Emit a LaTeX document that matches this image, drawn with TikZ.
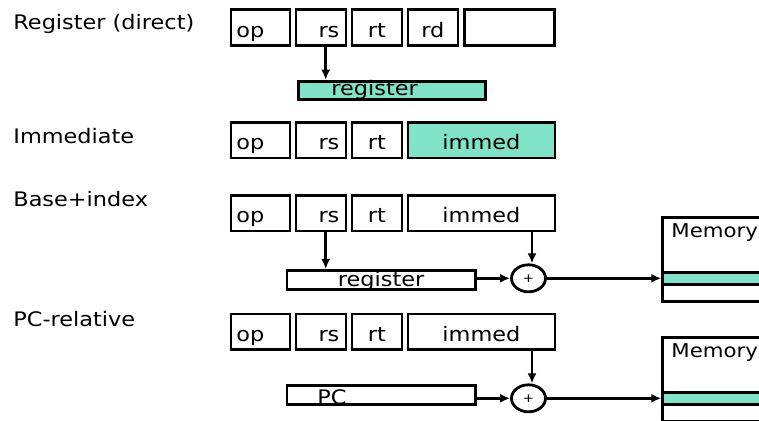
\documentclass[tikz,border=0pt]{standalone}
\usepackage{fontspec}
\setmainfont{DejaVu Sans}[FakeStretch=1.12]
\usetikzlibrary{shapes.geometric, arrows.meta, calc}
\definecolor{regfill}{RGB}{128,226,198}

\begin{document}
\begin{tikzpicture}[x=1pt, y=-1pt, line width=2.8pt,
    font=\fontsize{20}{24}\selectfont,
    modename/.style={anchor=base west, inner sep=0pt},
    fld/.style={draw, anchor=north west, minimum height=35.5pt, inner ysep=0pt, text height=27.5pt, text depth=8pt},
    opbox/.style={fld, minimum width=59pt, text width=48pt, inner xsep=5.5pt, align=left},
    rsbox/.style={fld, minimum width=50pt, text width=37pt, inner xsep=6.5pt, align=right},
    rtbox/.style={fld, minimum width=50pt, text width=50pt, inner xsep=0pt, align=center},
    immbox/.style={fld, minimum width=147pt, text width=147pt, inner xsep=0pt, align=center},
    regbox/.style={draw, anchor=north west, text width=188.5pt, inner sep=0pt},
    plus/.style={draw, ellipse, minimum width=34pt, minimum height=27pt, inner sep=0pt, font=\fontsize{12}{14}\selectfont},
    mem/.style={draw, anchor=north west, minimum width=130pt, minimum height=84pt, inner sep=0pt},
    band/.style={draw, fill=regfill, anchor=north west, minimum width=130pt, minimum height=12pt, inner sep=0pt},
    arr/.style={-{Latex[length=10pt,width=9pt]}}]
  \clip (0,0) rectangle (759,420);

  % addressing modes
  \node[modename] (mode1) at (12,30) {Register (direct)};
  \node[modename] (mode2) at (12,143) {Immediate};
  \node[modename] (mode3) at (12,206) {Base+index};
  \node[modename] (mode4) at (12,326) {PC-relative};

  % instruction fields
  \foreach \r/\y in {1/8.5, 2/121, 3/194, 4/312.5} {
    \node[opbox] (op\r) at (229.5,\y) {op};
    \node[rsbox] (rs\r) at (294.5,\y) {rs};
    \node[rtbox] (rt\r) at (350.5,\y) {rt};
  }
  \node[rtbox] (rd1) at (406.5,8.5) {rd};
  \node[fld, minimum width=90pt] (fn1) at (463,8.5) {};
  \node[immbox, fill=regfill] (imm2) at (406.5,121) {immed};
  \node[immbox] (imm3) at (406.5,194) {immed};
  \node[immbox] (imm4) at (406.5,312.5) {immed};

  % registers
  \node[regbox, fill=regfill, text width=187pt, align=left, text height=14.3pt, text depth=4pt] (reg1) at (297.3,79.7) {\hspace*{32.7pt}register};
  \node[regbox, align=center, text height=16pt, text depth=3pt] (reg3) at (285.5,269) {register};
  \node[regbox, align=left, text height=19.3pt, text depth=0pt] (pc4) at (285.5,384) {\hspace*{30.5pt}PC};

  % adders
  \node[plus] (plus1) at (528.5,278.3) {+};
  \node[plus] (plus2) at (528.5,398.3) {+};

  % memories
  \node[mem] (mem1) at (661.3,215.7) {};
  \node[band] (band1) at ($(mem1.north west)+(0,55.6)$) {};
  \node[modename, font=\fontsize{19}{22}\selectfont] (memlbl1) at ($(mem1.north west)+(8.7,21.3)$) {Memory};
  \node[mem] (mem2) at (661.3,335.7) {};
  \node[band] (band2) at ($(mem2.north west)+(0,55.6)$) {};
  \node[modename, font=\fontsize{19}{22}\selectfont] (memlbl2) at ($(mem2.north west)+(8.7,21.3)$) {Memory};

  % connectors
  \coordinate (src1) at ([xshift=4.8pt]rs1.south);
  \coordinate (src3) at ([xshift=4.8pt]rs3.south);
  \coordinate (add1) at ([xshift=3.5pt]plus1.north);
  \coordinate (add2) at ([xshift=3.5pt]plus2.north);
  \draw[arr] (src1) -- (src1 |- reg1.north);
  \draw[arr] (src3) -- (src3 |- reg3.north);
  \draw[arr] (add1 |- imm3.south) -- (add1);
  \draw[arr] (plus1.west -| reg3.east) -- (plus1.west);
  \draw[arr] (plus1.east) -- (plus1.east -| mem1.west);
  \draw[arr] (add2 |- imm4.south) -- (add2);
  \draw[arr] (plus2.west -| pc4.east) -- (plus2.west);
  \draw[arr] (plus2.east) -- (plus2.east -| mem2.west);
\end{tikzpicture}
\end{document}
